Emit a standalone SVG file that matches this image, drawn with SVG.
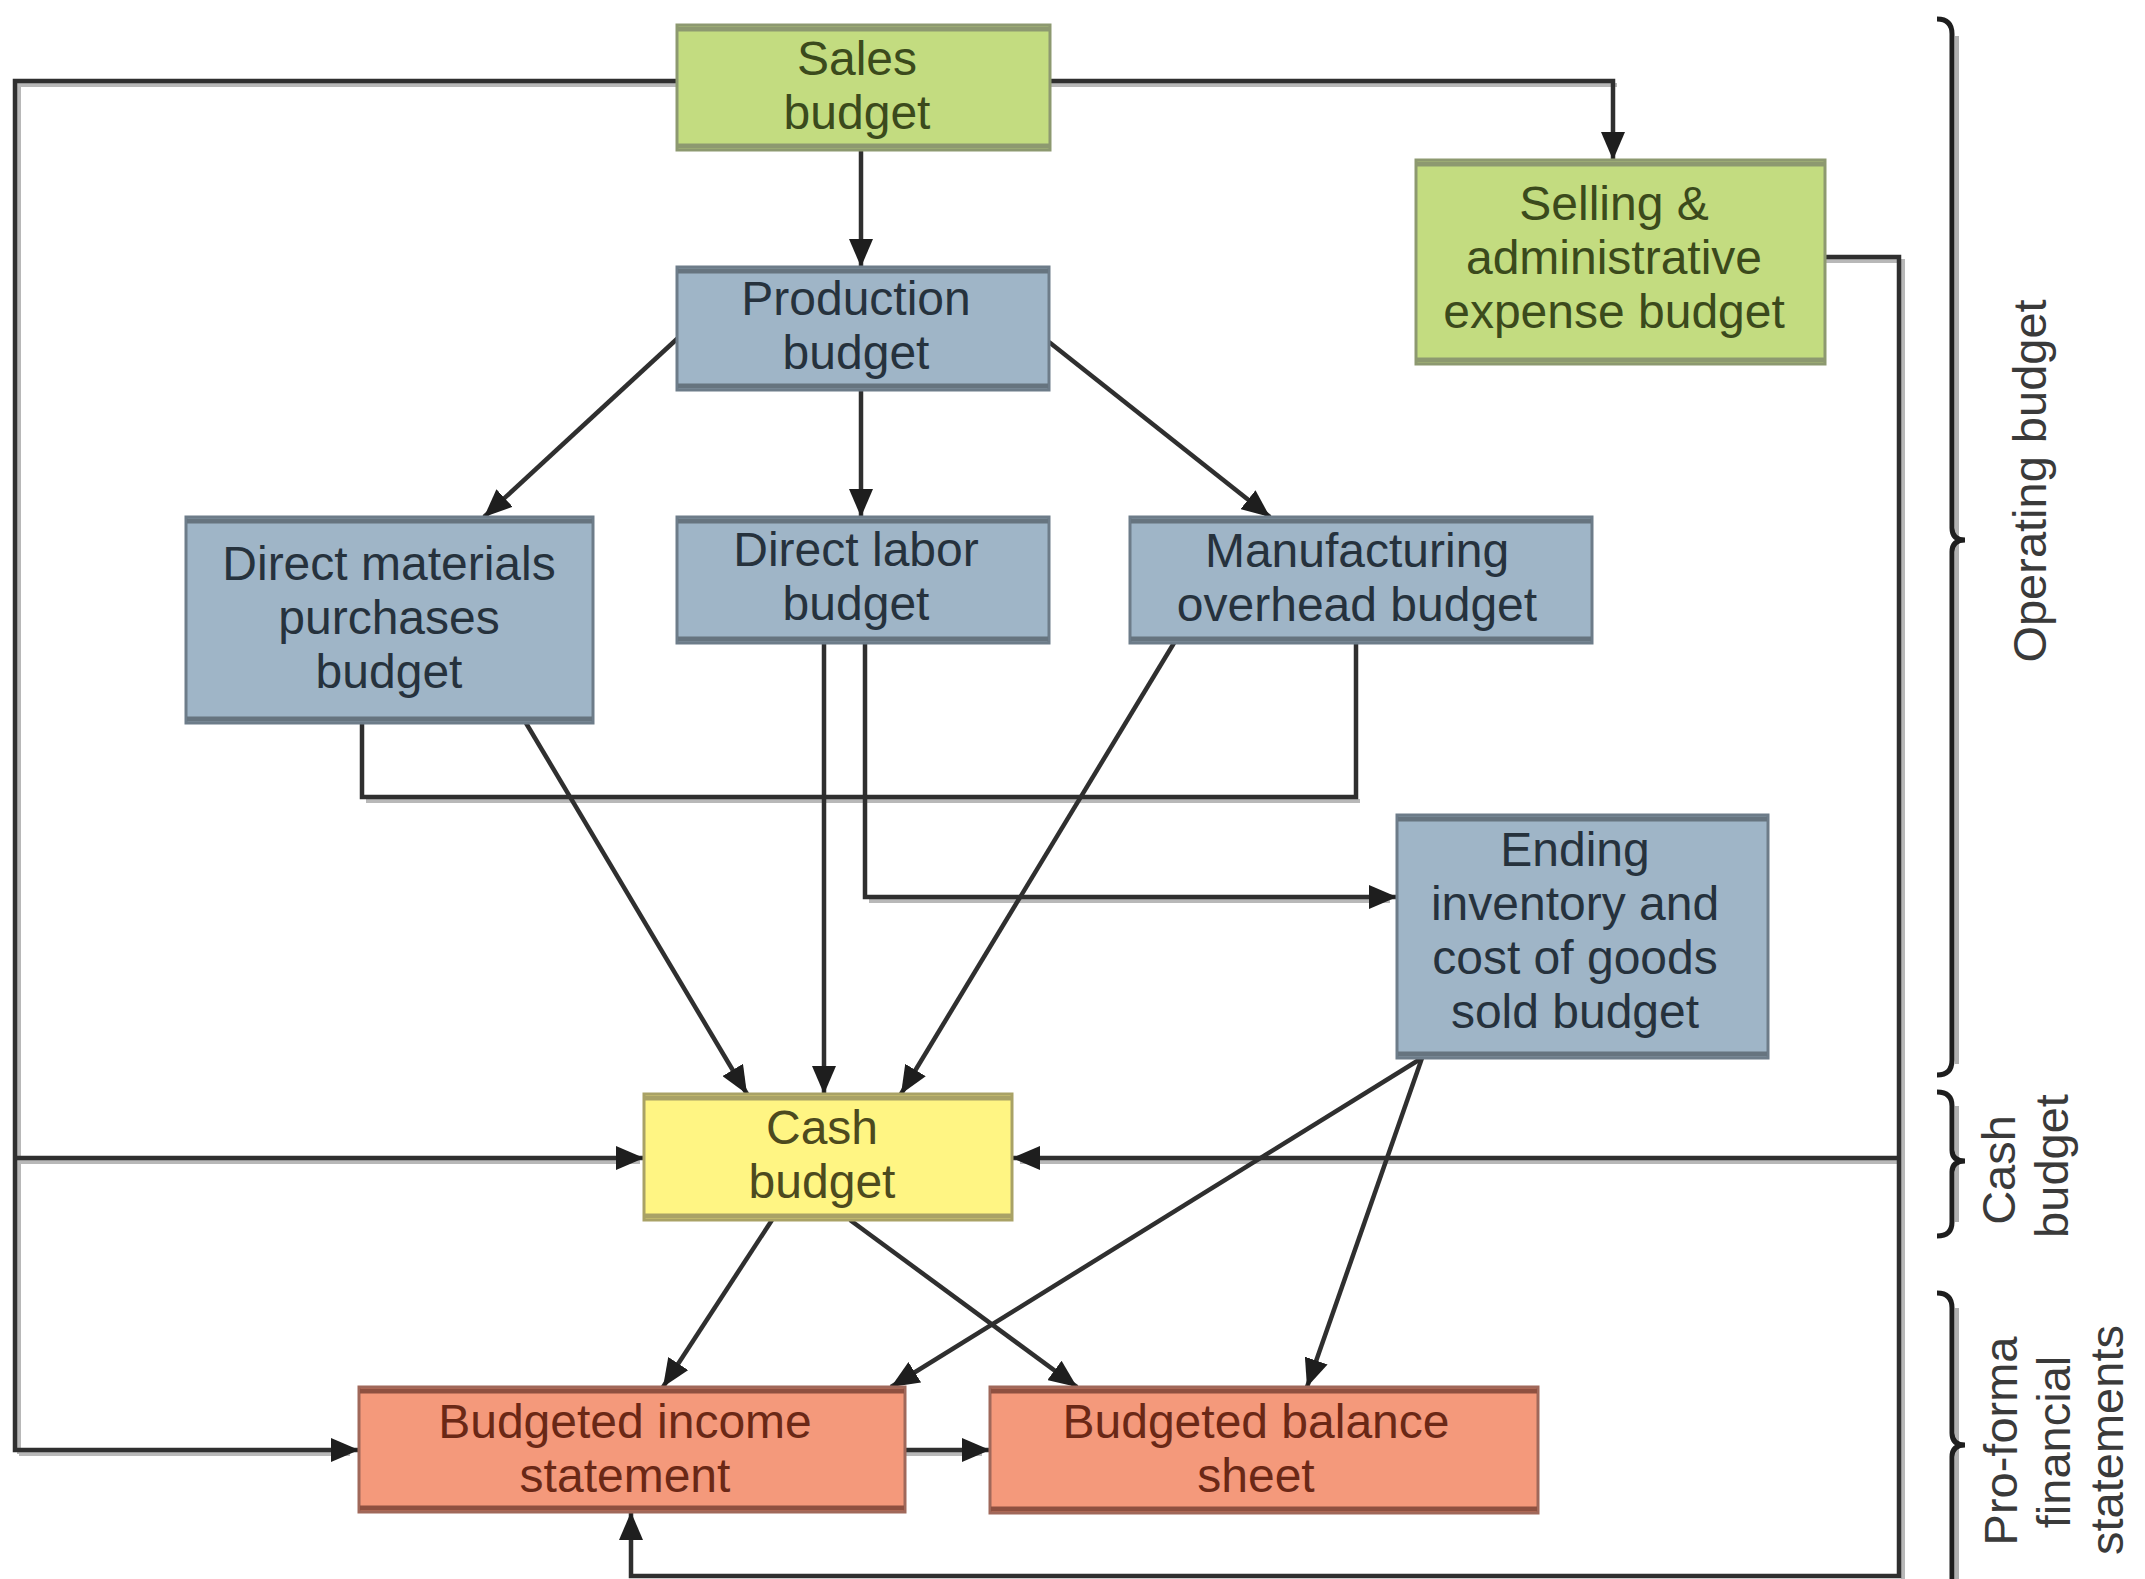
<svg xmlns="http://www.w3.org/2000/svg" width="2145" height="1579" viewBox="0 0 2145 1579">
<style>
  .lbl { font-family: "Liberation Sans", Arial, sans-serif; font-size: 48px; text-anchor: middle; }
  .side { font-family: "Liberation Sans", Arial, sans-serif; font-size: 47px; text-anchor: middle; fill: #3a3a3a; }
  .green rect.box { fill: #c3dc80; stroke: #8d9970; stroke-width: 3; }
  .green .band { stroke: #8d9970; }
  .green text { fill: #3b4a1c; }
  .blue rect.box { fill: #9fb5c7; stroke: #6d7c89; stroke-width: 3; }
  .blue .band { stroke: #66747f; }
  .blue text { fill: #26323d; }
  .yellow rect.box { fill: #fff583; stroke: #a9a266; stroke-width: 3; }
  .yellow .band { stroke: #a9a266; }
  .yellow text { fill: #4d4a1e; }
  .salmon rect.box { fill: #f4997b; stroke: #a0685a; stroke-width: 3; }
  .salmon .band { stroke: #8e5040; }
  .salmon text { fill: #6a2816; }
  .band { stroke-width: 5; fill: none; }
  .conn path { fill: none; stroke: #2f2f2f; stroke-width: 4.5; stroke-linejoin: miter; }
  .conn path.arr { marker-end: url(#ah); }
  .shadow path { fill: none; stroke: #b8b8b8; stroke-width: 4; }
  .brace { fill: none; stroke: #1e1e1e; stroke-width: 5; }
  .braceSh { fill: none; stroke: #b0b0b0; stroke-width: 4; }
</style>
<defs>
  <marker id="ah" markerUnits="userSpaceOnUse" markerWidth="28" markerHeight="24" viewBox="0 0 28 24" refX="28" refY="12" orient="auto">
    <path d="M0,0 L28,12 L0,24 z" fill="#1e1e1e"/>
  </marker>
</defs>
<rect width="2145" height="1579" fill="#ffffff"/>

<g id="connectors">
  <g class="shadow">
    <path d="M677,85 L19,85 L19,1454"/>
    <path d="M1050,85 L1617,85"/>
    <path d="M19,1162 L640,1162"/>
    <path d="M19,1454 L350,1454"/>
    <path d="M1825,261 L1903,261 L1903,1579"/>
    <path d="M1899,1162 L1020,1162"/>
    <path d="M366,801 L1360,801"/>
    <path d="M869,901 L1390,901"/>
    <path d="M905,1454 L982,1454"/>
  </g>
  <g class="conn">
    <path class="arr" d="M861,150 L861,267"/>
    <path class="arr" d="M1050,81 L1613,81 L1613,160"/>
    <path class="arr" d="M678,338 L484,517"/>
    <path class="arr" d="M861,390 L861,517"/>
    <path class="arr" d="M1049,342 L1270,517"/>
    <path class="arr" d="M526,723 L747,1094"/>
    <path class="arr" d="M824,643 L824,1094"/>
    <path class="arr" d="M1174,643 L901,1094"/>
    <path class="arr" d="M865,643 L865,897 L1397,897"/>
    <path d="M362,723 L362,797 L1356,797 L1356,643"/>
    <path class="arr" d="M677,81 L15,81 L15,1450 L359,1450"/>
    <path class="arr" d="M15,1158 L644,1158"/>
    <path class="arr" d="M1825,257 L1899,257 L1899,1576 L631,1576 L631,1512"/>
    <path class="arr" d="M1899,1158 L1012,1158"/>
    <path class="arr" d="M1422,1058 L891,1387"/>
    <path class="arr" d="M1422,1058 L1307,1387"/>
    <path class="arr" d="M772,1220 L663,1387"/>
    <path class="arr" d="M850,1220 L1077,1387"/>
    <path class="arr" d="M905,1450 L990,1450"/>
  </g>
</g>

<g id="sales" class="green">
  <rect class="box" x="677" y="25" width="373" height="125"/>
  <path class="band" d="M678,29 H1049 M678,146 H1049"/>
  <text class="lbl" x="857" y="75">Sales</text>
  <text class="lbl" x="857" y="129">budget</text>
</g>
<g id="selling" class="green">
  <rect class="box" x="1416" y="160" width="409" height="204"/>
  <path class="band" d="M1417,164 H1824 M1417,360 H1824"/>
  <text class="lbl" x="1614" y="220">Selling &amp;</text>
  <text class="lbl" x="1614" y="274">administrative</text>
  <text class="lbl" x="1614" y="328">expense budget</text>
</g>
<g id="production" class="blue">
  <rect class="box" x="677" y="267" width="372" height="123"/>
  <path class="band" d="M678,271 H1048 M678,386 H1048"/>
  <text class="lbl" x="856" y="315">Production</text>
  <text class="lbl" x="856" y="369">budget</text>
</g>
<g id="materials" class="blue">
  <rect class="box" x="186" y="517" width="407" height="206"/>
  <path class="band" d="M187,521 H592 M187,719 H592"/>
  <text class="lbl" x="389" y="580">Direct materials</text>
  <text class="lbl" x="389" y="634">purchases</text>
  <text class="lbl" x="389" y="688">budget</text>
</g>
<g id="labor" class="blue">
  <rect class="box" x="677" y="517" width="372" height="126"/>
  <path class="band" d="M678,521 H1048 M678,639 H1048"/>
  <text class="lbl" x="856" y="566">Direct labor</text>
  <text class="lbl" x="856" y="620">budget</text>
</g>
<g id="overhead" class="blue">
  <rect class="box" x="1130" y="517" width="462" height="126"/>
  <path class="band" d="M1131,521 H1591 M1131,639 H1591"/>
  <text class="lbl" x="1357" y="567">Manufacturing</text>
  <text class="lbl" x="1357" y="621">overhead budget</text>
</g>
<g id="ending" class="blue">
  <rect class="box" x="1397" y="815" width="371" height="243"/>
  <path class="band" d="M1398,819 H1767 M1398,1054 H1767"/>
  <text class="lbl" x="1575" y="866">Ending</text>
  <text class="lbl" x="1575" y="920">inventory and</text>
  <text class="lbl" x="1575" y="974">cost of goods</text>
  <text class="lbl" x="1575" y="1028">sold budget</text>
</g>
<g id="cash" class="yellow">
  <rect class="box" x="644" y="1094" width="368" height="126"/>
  <path class="band" d="M645,1098 H1011 M645,1216 H1011"/>
  <text class="lbl" x="822" y="1144">Cash</text>
  <text class="lbl" x="822" y="1198">budget</text>
</g>
<g id="income" class="salmon">
  <rect class="box" x="359" y="1387" width="546" height="125"/>
  <path class="band" d="M360,1391 H904 M360,1508 H904"/>
  <text class="lbl" x="625" y="1438">Budgeted income</text>
  <text class="lbl" x="625" y="1492">statement</text>
</g>
<g id="balance" class="salmon">
  <rect class="box" x="990" y="1387" width="548" height="126"/>
  <path class="band" d="M991,1391 H1537 M991,1509 H1537"/>
  <text class="lbl" x="1256" y="1438">Budgeted balance</text>
  <text class="lbl" x="1256" y="1492">sheet</text>
</g>

<g id="operating-brace">
  <path class="braceSh" d="M1957,36 L1957,1064"/>
  <path class="brace" d="M1937,19 Q1952,19 1952,34 L1952,528 Q1952,540 1965,540 Q1952,540 1952,552 L1952,1060 Q1952,1075 1937,1075"/>
  <text class="side" transform="translate(2046,481) rotate(-90)">Operating budget</text>
</g>
<g id="cash-brace">
  <path class="braceSh" d="M1957,1106 L1957,1222"/>
  <path class="brace" d="M1937,1092 Q1952,1092 1952,1106 L1952,1150 Q1952,1161 1965,1161 Q1952,1161 1952,1172 L1952,1222 Q1952,1236 1937,1236"/>
  <text class="side" transform="translate(2015,1170) rotate(-90)">Cash</text>
  <text class="side" transform="translate(2068,1166) rotate(-90)">budget</text>
</g>
<g id="proforma-brace">
  <path class="braceSh" d="M1957,1308 L1957,1579"/>
  <path class="brace" d="M1937,1293 Q1952,1293 1952,1308 L1952,1433 Q1952,1445 1965,1445 Q1952,1445 1952,1457 L1952,1600"/>
  <text class="side" transform="translate(2017,1441) rotate(-90)">Pro-forma</text>
  <text class="side" transform="translate(2070,1442) rotate(-90)">financial</text>
  <text class="side" transform="translate(2123,1440) rotate(-90)">statements</text>
</g>
</svg>
